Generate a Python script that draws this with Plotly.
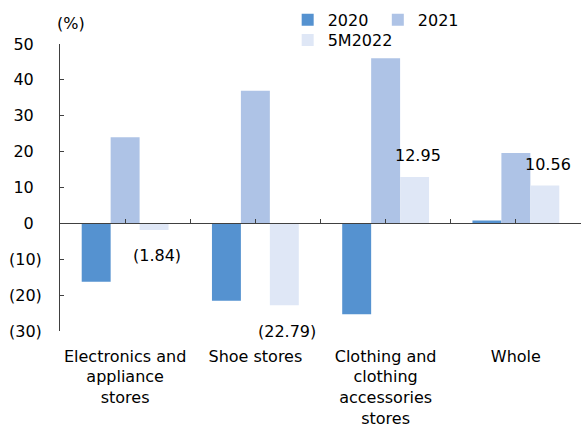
import plotly.graph_objects as go

# Year-over-year change in retail sales by store type (%)
categories = [
    "Electronics and<br>appliance<br>stores",
    "Shoe stores",
    "Clothing and<br>clothing<br>accessories<br>stores",
    "Whole",
]
series_names = ["2020", "2021", "5M2022"]
values_2020 = [-16.3, -21.6, -25.3, 0.8]
values_2021 = [24.0, 37.0, 46.0, 19.6]
values_5m2022 = [-1.84, -22.79, 12.95, 10.56]
y_ticks = [-30, -20, -10, 0, 10, 20, 30, 40, 50]

colors = ["#5592D0", "#AEC3E6", "#DFE7F6"]
FONT = "DejaVu Sans"
AXIS = "#404040"


def fmt_pct(v):
    return f"({abs(v):.2f})" if v < 0 else f"{v:.2f}"


def fmt_tick(v):
    # negatives in parentheses; positives padded so digits line up
    return f"({abs(v)})" if v < 0 else f"{v}\u2002"


xs = list(range(len(categories)))
fig = go.Figure()
legends = ["legend", "legend2", "legend3"]
for name, vals, col, lg in zip(series_names,
                               [values_2020, values_2021, values_5m2022],
                               colors, legends):
    fig.add_trace(go.Bar(
        x=xs, y=vals, name=name, marker=dict(color=col, line=dict(width=0)),
        legend=lg, hoverinfo="skip",
    ))

bargap = 1 / 3
bar_w = (1 - bargap) / 3
label_offset = -(1 - bargap) / 2 + bar_w * 2.5  # centre of the third bar in a group

annotations = []
for i, v in enumerate(values_5m2022):
    annotations.append(dict(
        x=xs[i] + label_offset, y=v, xref="x", yref="y",
        text=fmt_pct(v), showarrow=False,
        xanchor="center", yanchor="middle",
        xshift=3, yshift=21 if v >= 0 else -26,
        font=dict(family=FONT, size=16, color="#000"),
    ))

annotations.append(dict(
    x=0, y=1, xref="paper", yref="paper", text="(%)", showarrow=False,
    xanchor="center", yanchor="middle", xshift=11, yshift=21,
    font=dict(family=FONT, size=16, color="#000"),
))

legend_style = dict(
    orientation="h", xanchor="left", yanchor="middle",
    bgcolor="rgba(0,0,0,0)", borderwidth=0,
    font=dict(family=FONT, size=16, color="#000"),
    itemclick=False, itemdoubleclick=False,
)

fig.update_layout(
    width=581, height=433,
    margin=dict(l=60, r=0, t=44, b=102, autoexpand=False),
    paper_bgcolor="white", plot_bgcolor="white",
    barmode="group", bargap=bargap, bargroupgap=0,
    font=dict(family=FONT, size=16, color="#000"),
    showlegend=True,
    legend=dict(x=0.437, y=1.084, **legend_style),
    legend2=dict(x=0.610, y=1.084, **legend_style),
    legend3=dict(x=0.437, y=1.014, **legend_style),
    annotations=annotations,
    xaxis=dict(
        type="linear", range=[-0.5, len(categories) - 0.5],
        tickvals=xs, ticktext=categories,
        ticks="inside", ticklen=4, tickwidth=1, tickcolor=AXIS,
        minor=dict(tickvals=[i - 0.5 for i in range(len(categories) + 1)],
                   ticks="inside", ticklen=4, tickwidth=1, tickcolor=AXIS,
                   showgrid=False),
        showline=True, linecolor=AXIS, linewidth=1,
        showgrid=False, zeroline=False,
        anchor="free", position=(0 - y_ticks[0]) / (y_ticks[-1] - y_ticks[0]),
        ticklabelstandoff=118, automargin=False,
        tickfont=dict(family=FONT, size=16, color="#000"),
    ),
    yaxis=dict(
        range=[y_ticks[0], y_ticks[-1]],
        tickvals=y_ticks, ticktext=[fmt_tick(v) for v in y_ticks],
        ticks="inside", ticklen=4, tickwidth=1, tickcolor=AXIS,
        showline=True, linecolor=AXIS, linewidth=1,
        showgrid=False, zeroline=False,
        ticklabelstandoff=14, automargin=False,
        tickfont=dict(family=FONT, size=16, color="#000"),
    ),
)

fig.write_html("out.html")
